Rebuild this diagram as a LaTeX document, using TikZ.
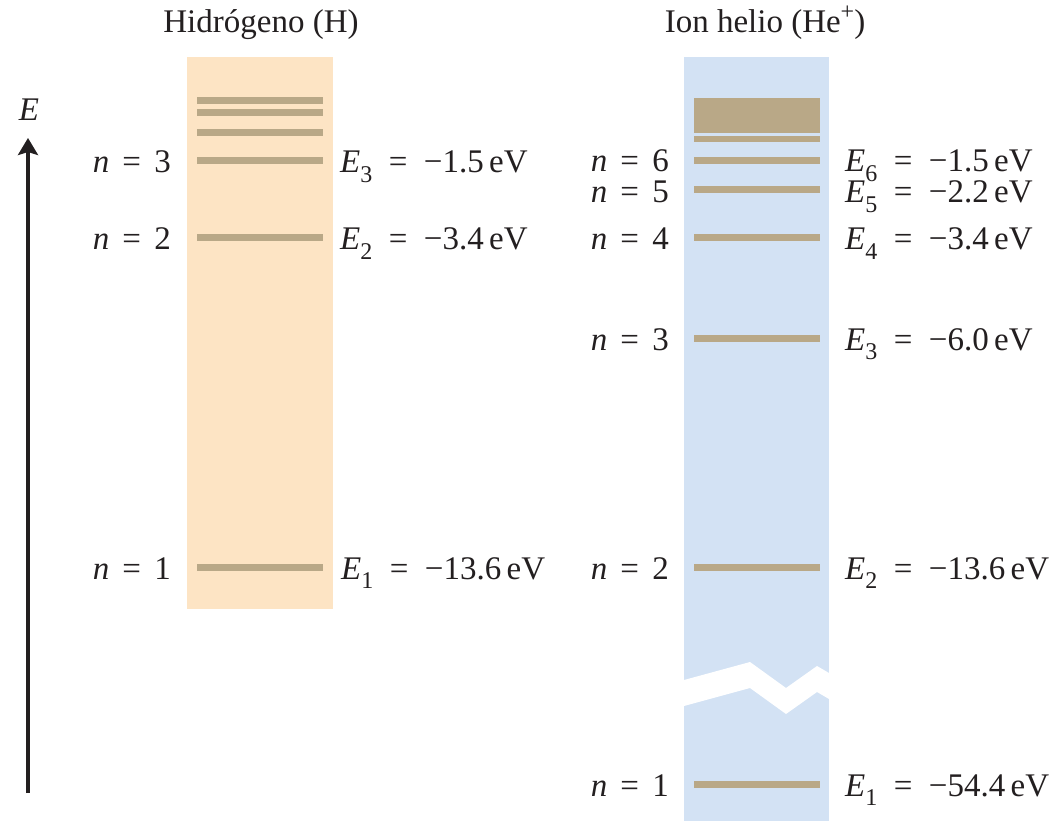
\documentclass[tikz,border=0pt]{standalone}
\usepackage{fontspec}
\setmainfont{Liberation Serif}
\usetikzlibrary{arrows.meta}
\definecolor{hcol}{RGB}{253,228,196}
\definecolor{hecol}{RGB}{211,226,244}
\definecolor{lev}{RGB}{185,168,135}
\definecolor{ink}{RGB}{35,31,32}
\newcommand{\nlab}[1]{\textit{n}\hspace{0.4em}=\hspace{0.4em}#1}
\newcommand{\elab}[2]{\textit{E}\raisebox{-0.28em}{\fontsize{24}{24}\selectfont #1}\hspace{0.5em}=\hspace{0.5em}−#2\hspace{0.16em}eV}
\begin{document}
\begin{tikzpicture}[x=1pt,y=-1pt,font=\fontsize{33}{40}\selectfont,text=ink,
  hbar/.style={fill=lev,inner sep=0pt,minimum width=126pt,minimum height=7pt},
  lft/.style={anchor=base east,inner sep=0pt},
  rgt/.style={anchor=base west,inner sep=0pt}]
\useasboundingbox (0,0) rectangle (1055,821);
\fill[white] (0,0) rectangle (1055,821);
% columns
\fill[hcol] (187,57) rectangle (333,609);
\fill[hecol] (684,57) rectangle (829,821);
% break in helium column
\fill[white] (684,680) -- (750,662) -- (786,688) -- (817,666) -- (829,673)
  -- (829,699) -- (817,692) -- (786,714) -- (750,688) -- (684,706) -- cycle;
% hydrogen levels
\node[hbar] (hA) at (260,101) {};
\node[hbar] (hB) at (260,113) {};
\node[hbar] (hC) at (260,133) {};
\node[hbar] (h3) at (260,161) {};
\node[hbar] (h2) at (260,238) {};
\node[hbar] (h1) at (260,567) {};
% helium levels
\node[hbar,minimum height=35pt] (heblock) at (757,115.5) {};
\node[hbar,minimum height=6pt] (heA) at (757,139) {};
\node[hbar] (he6) at (757,161) {};
\node[hbar] (he5) at (757,190) {};
\node[hbar] (he4) at (757,238) {};
\node[hbar] (he3) at (757,338) {};
\node[hbar] (he2) at (757,567) {};
\node[hbar] (he1) at (757,784) {};
% hydrogen labels
\node[lft] (nh3) at (171,173) {\nlab{3}};
\node[lft] (nh2) at (171,250) {\nlab{2}};
\node[lft] (nh1) at (171,579) {\nlab{1}};
\node[rgt] (eh3) at (340,173) {\elab{3}{1.5}};
\node[rgt] (eh2) at (340,250) {\elab{2}{3.4}};
\node[rgt] (eh1) at (341,579) {\elab{1}{13.6}};
% helium labels
\node[lft] (nhe6) at (669,172) {\nlab{6}};
\node[lft] (nhe5) at (669,203) {\nlab{5}};
\node[lft] (nhe4) at (669,250) {\nlab{4}};
\node[lft] (nhe3) at (669,350) {\nlab{3}};
\node[lft] (nhe2) at (669,579) {\nlab{2}};
\node[lft] (nhe1) at (669,796) {\nlab{1}};
\node[rgt] (ehe6) at (845,172) {\elab{6}{1.5}};
\node[rgt] (ehe5) at (845,203) {\elab{5}{2.2}};
\node[rgt] (ehe4) at (845,250) {\elab{4}{3.4}};
\node[rgt] (ehe3) at (845,350) {\elab{3}{6.0}};
\node[rgt] (ehe2) at (845,579) {\elab{2}{13.6}};
\node[rgt] (ehe1) at (845,796) {\elab{1}{54.4}};
% headers
\node[anchor=base] (tH) at (261,33) {Hidrógeno (H)};
\node[anchor=base] (tHe) at (765,33) {Ion helio (He\raisebox{0.42em}{\fontsize{24}{24}\selectfont +})};
% energy axis
\coordinate (abot) at (28,793);
\coordinate (atop) at (28,138);
\draw[ink,line width=4.5pt,-{Stealth[length=17pt,width=20pt,inset=3pt]}] (abot) -- (atop);
\node (Elab) at (29,110) {\textit{E}};
\end{tikzpicture}
\end{document}
